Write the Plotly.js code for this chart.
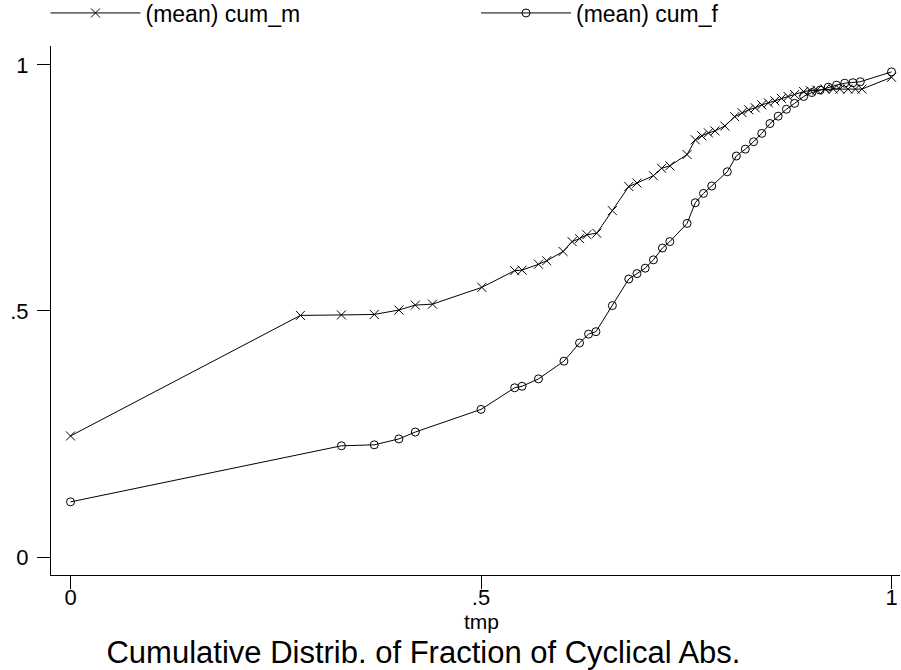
<!DOCTYPE html>
<html>
<head>
<meta charset="utf-8">
<script src="https://cdn.plot.ly/plotly-3.0.1.min.js"></script>
<style>html,body{margin:0;padding:0;background:#fff;}#chart{width:901px;height:670px;}</style>
</head>
<body>
<div id="chart"></div>
<script>
// cum_m series
var xM = [0, 0.280, 0.330, 0.370, 0.400, 0.420, 0.441, 0.501, 0.541, 0.550, 0.570, 0.580, 0.600, 0.611, 0.620, 0.629, 0.641, 0.660, 0.680, 0.690, 0.710, 0.720, 0.730, 0.751, 0.761, 0.769, 0.777, 0.785, 0.797, 0.809, 0.818, 0.826, 0.834, 0.842, 0.850, 0.858, 0.866, 0.874, 0.882, 0.893, 0.901, 0.909, 0.919, 0.929, 0.937, 0.947, 0.956, 0.964, 1.0];
var yM = [0.246, 0.491, 0.492, 0.493, 0.502, 0.512, 0.514, 0.548, 0.582, 0.583, 0.595, 0.602, 0.621, 0.641, 0.647, 0.655, 0.658, 0.704, 0.753, 0.760, 0.775, 0.790, 0.795, 0.818, 0.848, 0.856, 0.862, 0.866, 0.876, 0.895, 0.903, 0.909, 0.913, 0.919, 0.923, 0.927, 0.932, 0.936, 0.940, 0.946, 0.948, 0.949, 0.951, 0.951, 0.951, 0.951, 0.951, 0.951, 0.975];
// cum_f series
var xF = [0, 0.330, 0.370, 0.400, 0.420, 0.500, 0.541, 0.550, 0.570, 0.601, 0.620, 0.631, 0.640, 0.660, 0.680, 0.690, 0.700, 0.710, 0.721, 0.730, 0.751, 0.761, 0.771, 0.781, 0.800, 0.811, 0.822, 0.832, 0.842, 0.852, 0.862, 0.872, 0.882, 0.893, 0.903, 0.913, 0.923, 0.933, 0.943, 0.953, 0.962, 1.0];
var yF = [0.112, 0.226, 0.228, 0.240, 0.254, 0.300, 0.344, 0.347, 0.362, 0.398, 0.435, 0.453, 0.458, 0.511, 0.565, 0.576, 0.587, 0.604, 0.628, 0.641, 0.678, 0.720, 0.739, 0.754, 0.783, 0.815, 0.829, 0.844, 0.861, 0.881, 0.896, 0.910, 0.922, 0.936, 0.944, 0.949, 0.955, 0.959, 0.963, 0.964, 0.966, 0.986];

var seriesNames = ["(mean) cum_m", "(mean) cum_f"];
var xTickVals = [0, 0.5, 1];
var xTickText = ["0", ".5", "1"];
var yTickVals = [0, 0.5, 1];
var yTickText = ["0", ".5", "1"];
var xTitle = "tmp";
var chartTitle = "Cumulative Distrib. of Fraction of Cyclical Abs.";

var FONT = "Liberation Sans, Arial, Helvetica, sans-serif";

var traces = [
  {
    x: xM, y: yM, name: seriesNames[0], type: "scatter", mode: "lines+markers",
    line: {color: "#000", width: 1},
    marker: {symbol: "x-thin-open", size: 9, color: "#000", line: {color: "#000", width: 1}},
    legend: "legend"
  },
  {
    x: xF, y: yF, name: seriesNames[1], type: "scatter", mode: "lines+markers",
    line: {color: "#000", width: 1},
    marker: {symbol: "circle-open", size: 8, color: "#000", line: {color: "#000", width: 1}},
    legend: "legend2"
  }
];

var legendCommon = {
  orientation: "h", xanchor: "left", yanchor: "middle", y: 1.0624,
  itemwidth: 90, font: {family: FONT, size: 23, color: "#000"},
  bgcolor: "rgba(0,0,0,0)", borderwidth: 0
};

var layout = {
  width: 901, height: 670,
  paper_bgcolor: "#fff", plot_bgcolor: "#fff",
  margin: {l: 51, r: 1, t: 46, b: 95, pad: 0, autoexpand: false},
  font: {family: FONT, color: "#000", size: 22},
  showlegend: true,
  legend: Object.assign({}, legendCommon, {x: -0.0065}),
  legend2: Object.assign({}, legendCommon, {x: 0.5006}),
  title: {
    text: chartTitle, font: {family: FONT, size: 31, color: "#000"},
    xref: "container", yref: "container", x: 0.47, xanchor: "center", y: 0.0269, yanchor: "middle"
  },
  xaxis: {
    range: [-0.02375, 1.01035], tickvals: xTickVals, ticktext: xTickText,
    ticks: "outside", ticklen: 13, tickwidth: 1, tickcolor: "#000",
    showline: true, linecolor: "#000", linewidth: 1, mirror: false,
    showgrid: false, zeroline: false, ticklabelstandoff: -10,
    tickfont: {family: FONT, size: 22, color: "#000"}
  },
  yaxis: {
    range: [-0.03659, 1.0386], tickvals: yTickVals, ticktext: yTickText,
    ticks: "outside", ticklen: 13, tickwidth: 1, tickcolor: "#000",
    showline: true, linecolor: "#000", linewidth: 1, mirror: false,
    showgrid: false, zeroline: false, ticklabelstandoff: 4,
    tickfont: {family: FONT, size: 22, color: "#000"}
  },
  annotations: [
    {text: xTitle, xref: "x", x: 0.5, yref: "paper", y: -0.0888, yanchor: "middle", xanchor: "center",
     showarrow: false, font: {family: FONT, size: 21, color: "#000"}}
  ]
};

Plotly.newPlot("chart", traces, layout, {displayModeBar: false, staticPlot: true});
</script>
</body>
</html>
